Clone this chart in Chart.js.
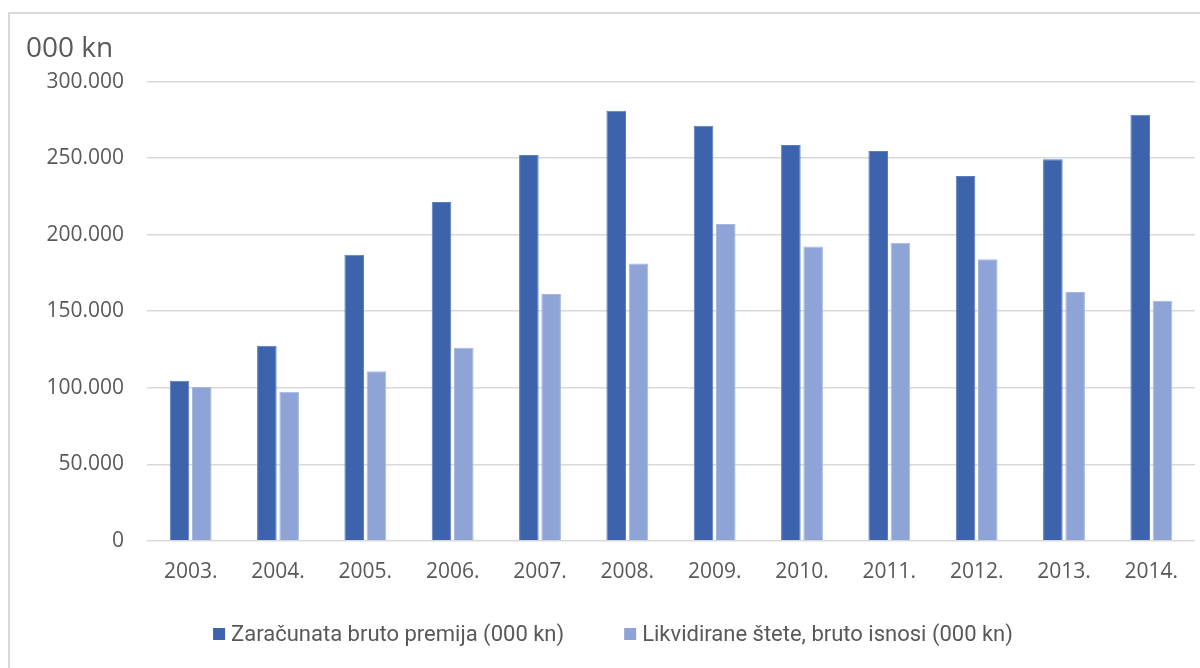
<!DOCTYPE html>
<html>
<head>
<meta charset="utf-8">
<script src="https://cdn.jsdelivr.net/npm/chart.js@4"></script>
<style>
  html, body { margin: 0; padding: 0; background: #fff; overflow: hidden; }
  #okvir {
    position: absolute; left: 8px; top: 12px;
    width: 1200px; height: 670px;
    border-left: 2px solid #d9d9d9; border-top: 2px solid #d9d9d9;
  }
  #graf { display: block; }
</style>
</head>
<body>
<div id="okvir"><canvas id="graf" width="1190" height="656"></canvas></div>
<script>
// Godine i iznosi (000 kn)
const GODINE = ["2003.", "2004.", "2005.", "2006.", "2007.", "2008.",
                "2009.", "2010.", "2011.", "2012.", "2013.", "2014."]
const PREMIJA = [104500, 127400, 186800, 221400, 252100, 280900,
                 271100, 258500, 254700, 238400, 249300, 278300]
const STETE   = [100600, 97300, 110800, 126100, 161300, 181100,
                 206900, 192200, 194800, 184000, 162600, 156800]
const Y_TICKS = [0, 50000, 100000, 150000, 200000, 250000, 300000]

const SIVA = "#595959"
const FONT = "'Open Sans', 'DejaVu Sans', sans-serif"
const FONT_LEGENDA = "22px Roboto, 'Open Sans', sans-serif"

// legenda ispod grafa, crtana rucno (razmak medu stavkama veci od unutarnjeg)
const legendaDolje = {
  id: "legendaDolje",
  afterDraw(chart) {
    const ctx = chart.ctx
    const y = chart.height - 36
    const kutija = 12, razmakTekst = 6, razmakStavke = 60
    ctx.save()
    ctx.font = FONT_LEGENDA
    const stavke = chart.data.datasets.map(ds => ({
      tekst: ds.label, boja: ds.backgroundColor, w: ctx.measureText(ds.label).width
    }))
    const ukupno = stavke.reduce((s, it) => s + kutija + razmakTekst + it.w, 0) +
      razmakStavke * (stavke.length - 1)
    let x = chart.width / 2 + 8 - ukupno / 2
    ctx.textBaseline = "middle"
    stavke.forEach(it => {
      ctx.fillStyle = it.boja
      ctx.fillRect(x, y - kutija / 2, kutija, kutija)
      x += kutija + razmakTekst
      ctx.fillStyle = SIVA
      ctx.fillText(it.tekst, x, y + 1)
      x += it.w + razmakStavke
    })
    ctx.restore()
  }
}

new Chart(document.getElementById("graf"), {
  type: "bar",
  data: {
    labels: GODINE,
    datasets: [
      {
        label: "Zaračunata bruto premija (000 kn)",
        data: PREMIJA,
        backgroundColor: "#3C63AC",
        borderColor: "#5a7dbd",
        borderWidth: 1,
        barPercentage: 0.88,
        categoryPercentage: 0.51,
      },
      {
        label: "Likvidirane štete, bruto isnosi (000 kn)",
        data: STETE,
        backgroundColor: "#8FA4D6",
        borderColor: "#a6b8e0",
        borderWidth: 1,
        barPercentage: 0.88,
        categoryPercentage: 0.51,
      }
    ]
  },
  plugins: [legendaDolje],
  options: {
    responsive: false,
    animation: false,
    layout: { padding: { left: 16, right: 5, top: 0, bottom: 66 } },
    plugins: {
      title: {
        display: true,
        text: "000 kn",
        align: "start",
        color: SIVA,
        font: { family: FONT, size: 28, weight: "normal" },
        padding: { top: 18, bottom: 16 },
      },
      legend: { display: false },
      tooltip: { enabled: false }
    },
    scales: {
      x: {
        grid: { display: false, drawTicks: false },
        border: { display: false },
        ticks: { color: SIVA, padding: 19, font: { family: FONT, size: 21 } },
      },
      y: {
        min: 0,
        max: 300000,
        afterBuildTicks: s => { s.ticks = Y_TICKS.map(v => ({ value: v })) },
        afterFit: s => { s.width = 121 },
        grid: { color: "#d9d9d9", lineWidth: 1.5, drawTicks: false },
        border: { display: false },
        ticks: {
          color: SIVA,
          padding: 23,
          font: { family: FONT, size: 21 },
          callback: v => v.toLocaleString("de-DE"),
        },
      }
    }
  }
})
</script>
</body>
</html>
